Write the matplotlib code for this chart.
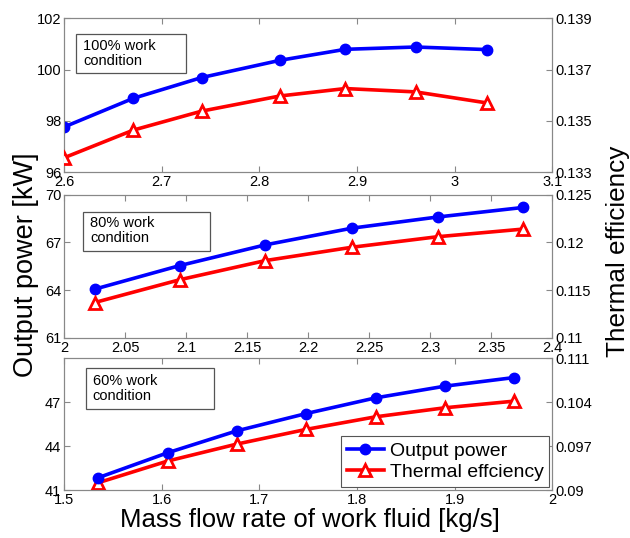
"""Output power and thermal efficiency against mass flow rate, three work conditions."""

import matplotlib
matplotlib.use("Agg")
import matplotlib.pyplot as plt
from matplotlib.patches import Rectangle

plt.rcParams["font.family"] = ["Liberation Sans", "DejaVu Sans"]

# 100% work condition
x100 = [2.600, 2.671, 2.741, 2.821, 2.888, 2.960, 3.033]
power100 = [97.76, 98.88, 99.69, 100.36, 100.79, 100.88, 100.78]
eff100 = [0.13356, 0.13464, 0.13538, 0.13597, 0.13626, 0.13613, 0.13570]

# 80% work condition
x80 = [2.025, 2.095, 2.165, 2.236, 2.306, 2.376]
power80 = [64.06, 65.55, 66.85, 67.90, 68.60, 69.20]
eff80 = [0.1137, 0.1161, 0.1181, 0.1195, 0.1206, 0.1214]

# 60% work condition
x60 = [1.535, 1.606, 1.677, 1.748, 1.819, 1.890, 1.961]
power60 = [41.84, 43.54, 45.04, 46.22, 47.29, 48.09, 48.68]
eff60 = [0.09116, 0.09461, 0.09732, 0.09966, 0.10166, 0.10310, 0.10416]

panels = [
    dict(x=x100, p=power100, e=eff100, label="100% work\ncondition",
         xlim=(2.6, 3.1), xticks=[2.6, 2.7, 2.8, 2.9, 3.0, 3.1],
         xtl=["2.6", "2.7", "2.8", "2.9", "3", "3.1"],
         ylim=(96, 102), yticks=[96, 98, 100, 102],
         elim=(0.133, 0.139), eticks=[0.133, 0.135, 0.137, 0.139],
         etl=["0.133", "0.135", "0.137", "0.139"],
         rect=[0.1016, 0.680, 0.775, 0.286],
         box=(0.025, 0.643, 0.225, 0.253), txt=(0.039, 0.773)),
    dict(x=x80, p=power80, e=eff80, label="80% work\ncondition",
         xlim=(2.0, 2.4), xticks=[2.0, 2.05, 2.1, 2.15, 2.2, 2.25, 2.3, 2.35, 2.4],
         xtl=["2", "2.05", "2.1", "2.15", "2.2", "2.25", "2.3", "2.35", "2.4"],
         ylim=(61, 70), yticks=[61, 64, 67, 70],
         elim=(0.11, 0.125), eticks=[0.11, 0.115, 0.12, 0.125],
         etl=["0.11", "0.115", "0.12", "0.125"],
         rect=[0.1016, 0.372, 0.775, 0.266],
         box=(0.039, 0.608, 0.26, 0.273), txt=(0.053, 0.748)),
    dict(x=x60, p=power60, e=eff60, label="60% work\ncondition",
         xlim=(1.5, 2.0), xticks=[1.5, 1.6, 1.7, 1.8, 1.9, 2.0],
         xtl=["1.5", "1.6", "1.7", "1.8", "1.9", "2"],
         ylim=(41, 50), yticks=[41, 44, 47],
         elim=(0.09, 0.111), eticks=[0.09, 0.097, 0.104, 0.111],
         etl=["0.09", "0.097", "0.104", "0.111"],
         rect=[0.1016, 0.0892, 0.775, 0.245],
         box=(0.045, 0.614, 0.262, 0.31), txt=(0.059, 0.773)),
]

fig = plt.figure(figsize=(6.3, 5.38), dpi=100)
fs = 10.5

for i, pn in enumerate(panels):
    ax = fig.add_axes(pn["rect"])
    ax2 = ax.twinx()
    l1, = ax.plot(pn["x"], pn["p"], color="#0000ff", lw=2.6, marker="o",
                  ms=7.5, label="Output power", zorder=3)
    l2, = ax2.plot(pn["x"], pn["e"], color="#ff0000", lw=2.6, marker="^",
                   ms=9, mfc="white", mec="#ff0000", mew=2,
                   label="Thermal effciency", zorder=3)
    ax.set_xlim(*pn["xlim"])
    ax.set_xticks(pn["xticks"])
    ax.set_xticklabels(pn["xtl"])
    ax.set_ylim(*pn["ylim"])
    ax.set_yticks(pn["yticks"])
    ax2.set_ylim(*pn["elim"])
    ax2.set_yticks(pn["eticks"])
    ax2.set_yticklabels(pn["etl"])
    for a in (ax, ax2):
        a.tick_params(direction="in", labelsize=fs, length=4, color="#888888", pad=2)
        for s in a.spines.values():
            s.set_color("#888888")
    ax.tick_params(top=True)

    bx, by, bw, bh = pn["box"]
    ax2.add_patch(Rectangle((bx, by), bw, bh, transform=ax2.transAxes,
                            fc="white", ec="#555555", lw=0.9, zorder=4))
    ax2.text(pn["txt"][0], pn["txt"][1], pn["label"], transform=ax2.transAxes,
             fontsize=fs, va="center", ha="left", linespacing=1.1, zorder=5)
    if i == 2:
        leg = ax.legend([l1, l2], ["Output power", "Thermal effciency"],
                        loc="lower right", fontsize=14, fancybox=False,
                        edgecolor="#555555", framealpha=1, handlelength=1.9,
                        borderaxespad=0.15, handletextpad=0.3, borderpad=0.3,
                        labelspacing=0.2)
        leg.get_frame().set_linewidth(0.8)
        ax.set_zorder(ax2.get_zorder() + 1)
        ax.patch.set_visible(False)

fig.text(0.041, 0.507, "Output power [kW]", rotation=90, fontsize=19.5,
         ha="center", va="center")
fig.text(0.981, 0.533, "Thermal efficiency", rotation=90, fontsize=18.8,
         ha="center", va="center")
fig.text(0.492, 0.033, "Mass flow rate of work fluid [kg/s]", fontsize=18.5,
         ha="center", va="center")

fig.savefig("out.png", dpi=100)
